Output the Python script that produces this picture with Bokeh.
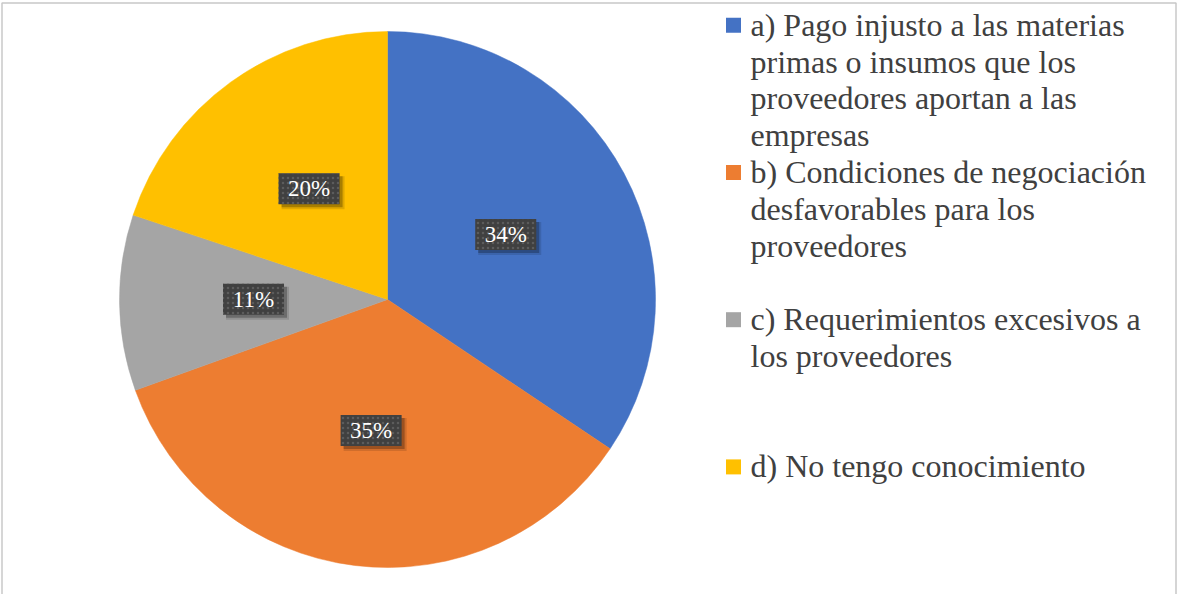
import math
import textwrap
from bokeh.plotting import figure
from bokeh.models import Range1d, ColumnDataSource
from bokeh.core.properties import value
from bokeh.embed import file_html
from bokeh.resources import INLINE

# ---- data ----
categories = [
    "a) Pago injusto a las materias primas o insumos que los proveedores aportan a las empresas",
    "b) Condiciones de negociación desfavorables para los proveedores",
    "c) Requerimientos excesivos a los proveedores",
    "d) No tengo conocimiento",
]
values = [34.4, 35.1, 10.6, 19.9]
labels = ["34%", "35%", "11%", "20%"]
colors = ["#4472C4", "#ED7D31", "#A5A5A5", "#FFC000"]

# ---- layout ----
W, H = 1177, 594
cx, cy, r = 387, H - 299, 268

total = sum(values)
starts, ends, lx, ly = [], [], [], []
acc = 0.0
for v in values:
    a0 = math.pi / 2 - 2 * math.pi * acc / total
    a1 = math.pi / 2 - 2 * math.pi * (acc + v) / total
    starts.append(a1)
    ends.append(a0)
    mid = (a0 + a1) / 2
    lx.append(cx + 0.5 * r * math.cos(mid))
    ly.append(cy + 0.5 * r * math.sin(mid) + 2)
    acc += v

p = figure(width=W, height=H, x_range=Range1d(0, W), y_range=Range1d(0, H),
           output_backend="svg", toolbar_location=None, min_border=0,
           x_axis_location=None, y_axis_location=None,
           outline_line_color=None, background_fill_color="white",
           styles={"position": "absolute", "left": "0px", "top": "0px"})
p.grid.visible = False

# chart border
p.quad(left=[1.5], right=[1175.5], top=[H - 2.5], bottom=[-20],
       fill_color=None, line_color="#c8c8c8", line_width=1.5)

src = ColumnDataSource(dict(start=starts, end=ends, color=colors,
                            lx=lx, ly=ly, label=labels))
p.wedge(x=cx, y=cy, radius=r, start_angle="start", end_angle="end",
        direction="anticlock", fill_color="color", line_color="color",
        line_width=0.5, source=src)

# data label boxes with shadow
bw, bh = 61, 31
p.rect(x=[x + 4 for x in lx], y=[y - 4 for y in ly], width=bw + 2, height=bh + 2,
       fill_color="black", fill_alpha=0.12, line_color=None)
p.rect(x=[x + 3 for x in lx], y=[y - 3 for y in ly], width=bw, height=bh,
       fill_color="black", fill_alpha=0.25, line_color=None)
p.rect(x="lx", y="ly", width=bw, height=bh, source=src,
       fill_color="#404040", line_color=None,
       hatch_pattern="dot", hatch_color="#5c5c5c", hatch_scale=5, hatch_weight=1)
p.text(x="lx", y="ly", text="label", source=src, text_color="white",
       text_font=value("Liberation Serif"), text_font_size="23px",
       text_align="center", text_baseline="middle")

# legend
sq_x, txt_x = 733, 750
first_base, entry_step, line_step = 33.3, 147.2, 36.8
text_shift = 9
sx, sy, sc = [], [], []
tx, ty, tt = [], [], []
for i, cat in enumerate(categories):
    base = first_base + i * entry_step
    sx.append(sq_x)
    sy.append(H - (base - 8.5))
    sc.append(colors[i])
    for j, ln in enumerate(textwrap.wrap(cat, 30)):
        tx.append(txt_x)
        ty.append(H - (base - text_shift + j * line_step))
        tt.append(ln)

p.rect(x=sx, y=sy, width=15, height=15, fill_color=sc, line_color=None)
p.text(x=tx, y=ty, text=tt, text_color="#404040",
       text_font=value("Liberation Serif"), text_font_size="32px",
       text_align="left", text_baseline="alphabetic")

open("out.html", "w").write(file_html(p, INLINE))
